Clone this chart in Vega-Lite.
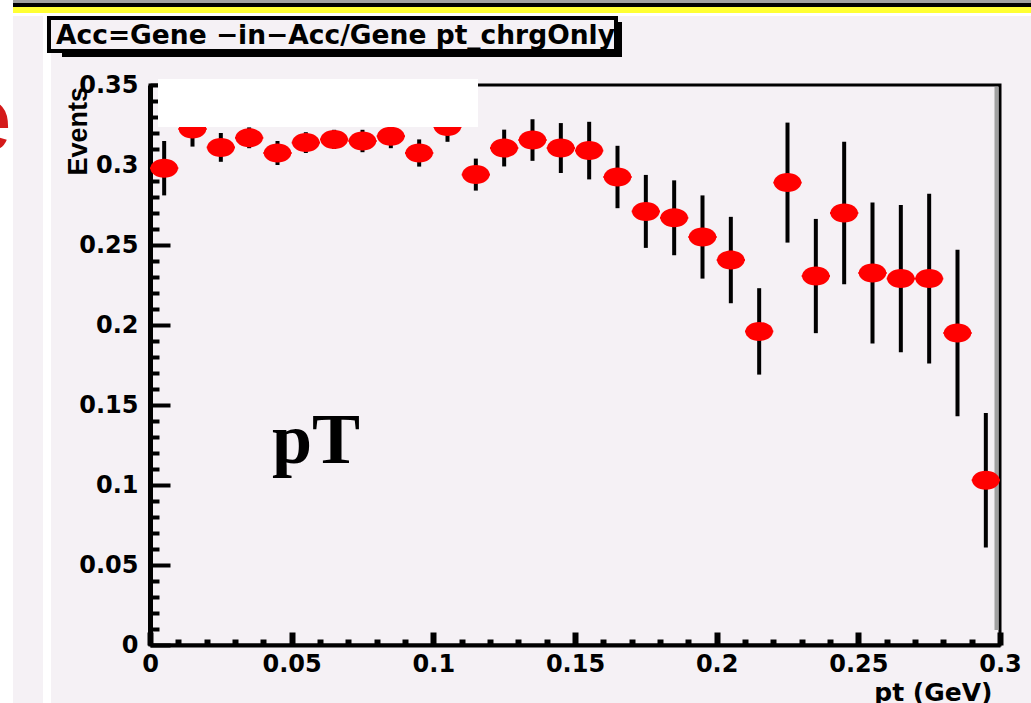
{
  "$schema": "https://vega.github.io/schema/vega-lite/v6.json",
  "width": 850,
  "height": 560,
  "autosize": {"type": "none"},
  "padding": {"left": 150, "top": 85, "right": 31, "bottom": 58},
  "background": "#f5f1f5",
  "config": {
    "view": {"stroke": "#000000", "strokeWidth": 3},
    "axis": {"grid": false, "labelColor": "#000000", "titleColor": "#000000", "tickColor": "#000000", "domainColor": "#000000"}
  },
  "datasets": {
    "pts": [
      {"pt": 0.005, "eff": 0.298, "err": 0.017, "xe": 0.005},
      {"pt": 0.015, "eff": 0.3225, "err": 0.011, "xe": 0.005},
      {"pt": 0.025, "eff": 0.311, "err": 0.009, "xe": 0.005},
      {"pt": 0.035, "eff": 0.317, "err": 0.0065, "xe": 0.005},
      {"pt": 0.045, "eff": 0.3075, "err": 0.0075, "xe": 0.005},
      {"pt": 0.055, "eff": 0.314, "err": 0.0065, "xe": 0.005},
      {"pt": 0.065, "eff": 0.316, "err": 0.006, "xe": 0.005},
      {"pt": 0.075, "eff": 0.315, "err": 0.007, "xe": 0.005},
      {"pt": 0.085, "eff": 0.318, "err": 0.0075, "xe": 0.005},
      {"pt": 0.095, "eff": 0.3075, "err": 0.0085, "xe": 0.005},
      {"pt": 0.105, "eff": 0.324, "err": 0.0095, "xe": 0.005},
      {"pt": 0.115, "eff": 0.294, "err": 0.01, "xe": 0.005},
      {"pt": 0.125, "eff": 0.3106, "err": 0.0115, "xe": 0.005},
      {"pt": 0.135, "eff": 0.3156, "err": 0.013, "xe": 0.005},
      {"pt": 0.145, "eff": 0.3106, "err": 0.0156, "xe": 0.005},
      {"pt": 0.155, "eff": 0.309, "err": 0.018, "xe": 0.005},
      {"pt": 0.165, "eff": 0.2925, "err": 0.0195, "xe": 0.005},
      {"pt": 0.175, "eff": 0.271, "err": 0.0228, "xe": 0.005},
      {"pt": 0.185, "eff": 0.267, "err": 0.0234, "xe": 0.005},
      {"pt": 0.195, "eff": 0.255, "err": 0.026, "xe": 0.005},
      {"pt": 0.205, "eff": 0.2406, "err": 0.027, "xe": 0.005},
      {"pt": 0.215, "eff": 0.196, "err": 0.027, "xe": 0.005},
      {"pt": 0.225, "eff": 0.289, "err": 0.0375, "xe": 0.005},
      {"pt": 0.235, "eff": 0.2306, "err": 0.0357, "xe": 0.005},
      {"pt": 0.245, "eff": 0.27, "err": 0.0445, "xe": 0.005},
      {"pt": 0.255, "eff": 0.2325, "err": 0.044, "xe": 0.005},
      {"pt": 0.265, "eff": 0.229, "err": 0.046, "xe": 0.005},
      {"pt": 0.275, "eff": 0.229, "err": 0.053, "xe": 0.005},
      {"pt": 0.285, "eff": 0.195, "err": 0.052, "xe": 0.005},
      {"pt": 0.295, "eff": 0.103, "err": 0.042, "xe": 0.005}
    ]
  },
  "data": {"name": "pts"},
  "layer": [
    {
      "data": {"values": [{}]},
      "mark": {"type": "rect", "color": "#ffffff", "clip": false},
      "encoding": {
        "x": {"datum": -0.0530, "type": "quantitative", "title": "pt (GeV)", "scale": {"domain": [0, 0.3], "nice": false, "zero": false}},
        "x2": {"datum": -0.04835},
        "y": {"datum": 0.4032, "type": "quantitative", "title": "Events", "scale": {"domain": [0, 0.35], "nice": false, "zero": false}},
        "y2": {"datum": -0.0363}
      }
    },
    {
      "data": {"values": [{}]},
      "mark": {"type": "rect", "color": "#ffffff", "clip": false},
      "encoding": {
        "x": {"datum": -0.03776, "type": "quantitative", "title": "pt (GeV)"},
        "x2": {"datum": -0.03494},
        "y": {"datum": 0.393125, "type": "quantitative", "title": "Events"},
        "y2": {"datum": -0.0363}
      }
    },
    {
      "data": {"values": [{}]},
      "mark": {"type": "rect", "color": "#a0a0a0", "clip": false},
      "encoding": {
        "x": {"datum": -0.04835, "type": "quantitative", "title": "pt (GeV)"},
        "x2": {"datum": 0.311},
        "y": {"datum": 0.4032, "type": "quantitative", "title": "Events"},
        "y2": {"datum": 0.40125}
      }
    },
    {
      "data": {"values": [{}]},
      "mark": {"type": "rect", "color": "#000000", "clip": false},
      "encoding": {
        "x": {"datum": -0.04835, "type": "quantitative", "title": "pt (GeV)"},
        "x2": {"datum": 0.311},
        "y": {"datum": 0.40125, "type": "quantitative", "title": "Events"},
        "y2": {"datum": 0.39875}
      }
    },
    {
      "data": {"values": [{}]},
      "mark": {"type": "rect", "color": "#ffff33", "clip": false},
      "encoding": {
        "x": {"datum": -0.04835, "type": "quantitative", "title": "pt (GeV)"},
        "x2": {"datum": 0.311},
        "y": {"datum": 0.39875, "type": "quantitative", "title": "Events"},
        "y2": {"datum": 0.395}
      }
    },
    {
      "data": {"values": [{}]},
      "mark": {"type": "rect", "color": "#ffffff", "clip": false},
      "encoding": {
        "x": {"datum": -0.04835, "type": "quantitative", "title": "pt (GeV)"},
        "x2": {"datum": 0.311},
        "y": {"datum": 0.395, "type": "quantitative", "title": "Events"},
        "y2": {"datum": 0.393125}
      }
    },
    {
      "data": {"values": [{"t": "e"}]},
      "mark": {"type": "text", "font": "Liberation Sans", "fontSize": 90, "color": "#d41a1a", "align": "right", "baseline": "alphabetic", "clip": false},
      "encoding": {
        "x": {"datum": -0.04871, "type": "quantitative", "title": "pt (GeV)"},
        "y": {"datum": 0.309375, "type": "quantitative", "title": "Events"},
        "text": {"field": "t"}
      }
    },
    {
      "data": {"values": [{}]},
      "mark": {"type": "rect", "color": "#000000", "clip": false},
      "encoding": {
        "x": {"datum": -0.03106, "type": "quantitative", "title": "pt (GeV)"},
        "x2": {"datum": 0.16659},
        "y": {"datum": 0.389375, "type": "quantitative", "title": "Events"},
        "y2": {"datum": 0.3675}
      }
    },
    {
      "data": {"values": [{}]},
      "mark": {"type": "rect", "fill": "#f5f1f5", "stroke": "#000000", "strokeWidth": 4, "clip": false},
      "encoding": {
        "x": {"datum": -0.03565, "type": "quantitative", "title": "pt (GeV)"},
        "x2": {"datum": 0.16447},
        "y": {"datum": 0.391875, "type": "quantitative", "title": "Events"},
        "y2": {"datum": 0.37125}
      }
    },
    {
      "data": {"values": [{"t": "Acc=Gene −in−Acc/Gene pt_chrgOnly"}]},
      "mark": {"type": "text", "font": "DejaVu Sans", "fontWeight": "bold", "fontSize": 26.5, "color": "#000000", "align": "left", "baseline": "alphabetic", "clip": false},
      "encoding": {
        "x": {"datum": -0.03318, "type": "quantitative", "title": "pt (GeV)"},
        "y": {"datum": 0.375625, "type": "quantitative", "title": "Events"},
        "text": {"field": "t"}
      }
    },
    {
      "data": {"values": [{}]},
      "mark": {"type": "rule", "color": "#a0a0a0", "strokeWidth": 4, "xOffset": -3.5, "clip": false},
      "encoding": {
        "x": {"datum": 0.3, "type": "quantitative", "title": "pt (GeV)"},
        "y": {"datum": 0.34875, "type": "quantitative", "title": "Events"},
        "y2": {"datum": 0.009375}
      }
    },
    {
      "mark": {"type": "errorbar", "thickness": 4, "color": "#000000"},
      "encoding": {
        "x": {"field": "pt", "type": "quantitative", "title": "pt (GeV)"},
        "y": {"field": "eff", "type": "quantitative", "title": "Events"},
        "yError": {"field": "err"}
      }
    },
    {
      "mark": {"type": "errorbar", "thickness": 2, "color": "#ff0000"},
      "encoding": {
        "y": {"field": "eff", "type": "quantitative", "title": "Events"},
        "x": {"field": "pt", "type": "quantitative", "title": "pt (GeV)"},
        "xError": {"field": "xe"}
      }
    },
    {
      "mark": {"type": "point", "shape": "M -1 0 A 1 0.69 0 1 0 1 0 A 1 0.69 0 1 0 -1 0 Z", "size": 760, "filled": true, "color": "#ff0000", "opacity": 1, "strokeWidth": 0},
      "encoding": {
        "x": {
          "field": "pt",
          "type": "quantitative",
          "title": "pt (GeV)",
          "axis": {
            "tickCount": 100,
            "values": [0, 0.01, 0.02, 0.03, 0.04, 0.05, 0.06, 0.07, 0.08, 0.09, 0.1, 0.11, 0.12, 0.13, 0.14, 0.15, 0.16, 0.17, 0.18, 0.19, 0.2, 0.21, 0.22, 0.23, 0.24, 0.25, 0.26, 0.27, 0.28, 0.29, 0.3],
            "labelExpr": "abs(datum.value*20 - round(datum.value*20)) < 0.001 ? format(datum.value, '~g') : ''",
            "tickSize": {"condition": {"test": "abs(datum.value*20 - round(datum.value*20)) < 0.001", "value": -13}, "value": -6},
            "tickWidth": 6,
            "domainWidth": 4,
            "labelFont": "DejaVu Sans",
            "labelFontWeight": "bold",
            "labelFontSize": 24,
            "labelPadding": 20,
            "labelOverlap": false,
            "labelFlush": false,
            "labelBound": false,
            "titleFont": "DejaVu Sans",
            "titleFontWeight": "bold",
            "titleFontSize": 25,
            "titleAnchor": "end",
            "titleAlign": "right",
            "titleBaseline": "top",
            "titleX": 842,
            "titleY": 35
          }
        },
        "y": {
          "field": "eff",
          "type": "quantitative",
          "title": "Events",
          "axis": {
            "tickCount": 100,
            "values": [0, 0.01, 0.02, 0.03, 0.04, 0.05, 0.06, 0.07, 0.08, 0.09, 0.1, 0.11, 0.12, 0.13, 0.14, 0.15, 0.16, 0.17, 0.18, 0.19, 0.2, 0.21, 0.22, 0.23, 0.24, 0.25, 0.26, 0.27, 0.28, 0.29, 0.3, 0.31, 0.32, 0.33, 0.34, 0.35],
            "labelExpr": "abs(datum.value*20 - round(datum.value*20)) < 0.001 ? format(datum.value, '~g') : ''",
            "tickSize": {"condition": {"test": "abs(datum.value*20 - round(datum.value*20)) < 0.001", "value": -20}, "value": -9},
            "tickWidth": 4,
            "domainWidth": 5,
            "labelFont": "DejaVu Sans",
            "labelFontWeight": "bold",
            "labelFontSize": 24,
            "labelPadding": 32,
            "labelOverlap": false,
            "labelFlush": false,
            "labelBound": false,
            "titleFont": "Liberation Sans",
            "titleFontWeight": "bold",
            "titleFontSize": 27,
            "titleAngle": 270,
            "titleAlign": "left",
            "titleBaseline": "alphabetic",
            "titleX": -64,
            "titleY": 90
          }
        }
      }
    },
    {
      "data": {"values": [{"t": "pT"}]},
      "mark": {"type": "text", "font": "Liberation Serif", "fontWeight": "bold", "fontSize": 72, "color": "#000000", "align": "left", "baseline": "alphabetic"},
      "encoding": {
        "x": {"datum": 0.04306, "type": "quantitative", "title": "pt (GeV)"},
        "y": {"datum": 0.11375, "type": "quantitative", "title": "Events"},
        "text": {"field": "t"}
      }
    },
    {
      "data": {"values": [{}]},
      "mark": {"type": "rect", "color": "#ffffff", "clip": false},
      "encoding": {
        "x": {"datum": 0.002824, "type": "quantitative", "title": "pt (GeV)"},
        "x2": {"datum": 0.115765},
        "y": {"datum": 0.35375, "type": "quantitative", "title": "Events"},
        "y2": {"datum": 0.32375}
      }
    }
  ]
}
